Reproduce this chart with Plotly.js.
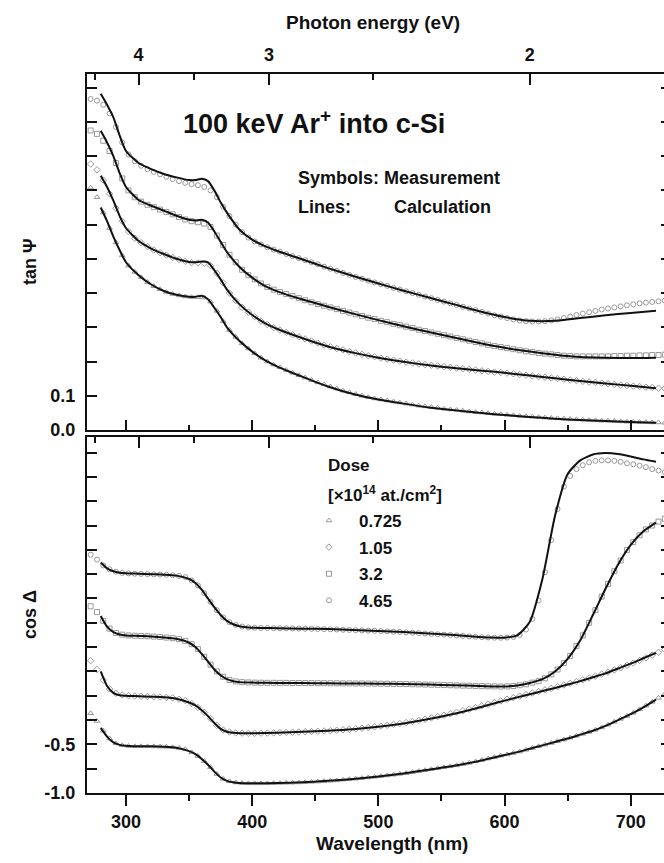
<!DOCTYPE html>
<html><head><meta charset="utf-8">
<script src="https://cdn.plot.ly/plotly-3.0.1.min.js"></script>
<style>html,body{margin:0;padding:0;background:#fff;overflow:hidden}</style>
</head><body><div id="chart" style="width:671px;height:863px"></div>
<script>
const DOSES = ['0.725', '1.05', '3.2', '4.65'];
const SYMBOLS = ['triangle-up-open', 'diamond-open', 'square-open', 'circle-open'];

// ---------- calculation (lines) ----------
// top panel: tan Psi (curves offset for clarity)
const WL_T = [280,285,290,295,300,310,320,330,340,350,355,360,365,370,375,380,390,400,410,420,440,460,480,500,520,540,560,580,600,620,640,660,680,700,720];
const TAN_CALC_0725 = [0.65,0.61,0.565,0.525,0.49,0.452,0.425,0.406,0.395,0.389,0.389,0.392,0.382,0.357,0.33,0.30,0.26,0.229,0.204,0.185,0.155,0.127,0.105,0.089,0.077,0.066,0.058,0.050,0.044,0.038,0.033,0.029,0.026,0.023,0.021];
const TAN_CALC_105  = [0.743,0.71,0.67,0.625,0.59,0.552,0.53,0.514,0.50,0.491,0.49,0.492,0.49,0.467,0.44,0.41,0.367,0.336,0.312,0.295,0.268,0.244,0.226,0.211,0.199,0.189,0.181,0.174,0.167,0.159,0.151,0.143,0.136,0.129,0.122];
const TAN_CALC_32   = [0.874,0.84,0.80,0.75,0.71,0.672,0.655,0.641,0.626,0.614,0.612,0.614,0.606,0.58,0.55,0.52,0.476,0.445,0.421,0.405,0.381,0.360,0.340,0.321,0.303,0.286,0.270,0.254,0.240,0.229,0.220,0.213,0.211,0.210,0.211];
const TAN_CALC_465  = [0.982,0.95,0.913,0.86,0.815,0.78,0.762,0.748,0.738,0.73,0.73,0.734,0.727,0.70,0.665,0.635,0.585,0.556,0.537,0.523,0.498,0.473,0.450,0.428,0.407,0.387,0.367,0.347,0.330,0.319,0.319,0.327,0.335,0.342,0.348];

// bottom panel: cos Delta (curves offset for clarity)
const WL_B = [280,285,290,295,300,310,320,330,340,350,355,360,365,370,375,380,385,390,400,420,440,460,480,500,520,540,560,580,590,600,610,620,630,640,650,660,670,680,690,700,710,720];
const COS_CALC_0725 = [-0.33,-0.42,-0.48,-0.505,-0.515,-0.52,-0.52,-0.525,-0.535,-0.57,-0.60,-0.65,-0.71,-0.78,-0.84,-0.875,-0.89,-0.897,-0.90,-0.897,-0.89,-0.875,-0.855,-0.83,-0.80,-0.76,-0.72,-0.67,-0.64,-0.61,-0.58,-0.545,-0.51,-0.475,-0.44,-0.40,-0.36,-0.31,-0.25,-0.19,-0.12,-0.04];
const COS_CALC_105  = [0.25,0.10,0.03,0.005,0.0,-0.005,-0.01,-0.015,-0.03,-0.07,-0.10,-0.15,-0.21,-0.28,-0.34,-0.37,-0.38,-0.385,-0.386,-0.38,-0.37,-0.36,-0.345,-0.32,-0.285,-0.24,-0.185,-0.12,-0.085,-0.05,-0.017,0.015,0.048,0.08,0.115,0.15,0.19,0.23,0.28,0.33,0.385,0.44];
const COS_CALC_32   = [0.82,0.71,0.655,0.63,0.62,0.615,0.61,0.60,0.585,0.545,0.50,0.43,0.35,0.27,0.21,0.17,0.15,0.14,0.135,0.132,0.13,0.128,0.126,0.124,0.12,0.115,0.108,0.10,0.096,0.095,0.105,0.13,0.17,0.25,0.38,0.57,0.83,1.10,1.35,1.55,1.69,1.78];
const COS_CALC_465  = [1.37,1.31,1.28,1.265,1.26,1.255,1.25,1.245,1.235,1.20,1.16,1.09,1.00,0.91,0.83,0.77,0.735,0.715,0.70,0.695,0.69,0.685,0.675,0.665,0.655,0.64,0.625,0.605,0.598,0.597,0.62,0.76,1.20,1.85,2.28,2.42,2.48,2.495,2.485,2.46,2.43,2.405];

// ---------- measurement (symbols) ----------
const WL_M = [272,277,282,287,292,297,302,307,312,317,
  322,327,332,337,342,347,352,357,362,367,
  372,377,382,387,392,397,402,407,412,417,
  422,427,432,437,442,447,452,457,462,467,
  472,477,482,487,492,497,502,507,512,517,
  522,527,532,537,542,547,552,557,562,567,
  572,577,582,587,592,597,602,607,612,617,
  622,627,632,637,642,647,652,657,662,667,
  672,677,682,687,692,697,702,707,712,717,
  722,727];

const TAN_MEAS_0725 = [0.708,0.680,0.635,0.590,0.548,0.510,0.480,0.462,0.446,0.432,
  0.420,0.411,0.403,0.397,0.393,0.390,0.388,0.388,0.387,0.375,
  0.348,0.318,0.292,0.272,0.253,0.238,0.224,0.211,0.200,0.191,
  0.183,0.175,0.167,0.160,0.153,0.146,0.139,0.133,0.127,0.121,
  0.115,0.110,0.105,0.100,0.096,0.092,0.089,0.086,0.083,0.080,
  0.077,0.074,0.071,0.069,0.067,0.065,0.062,0.060,0.058,0.056,
  0.054,0.052,0.051,0.049,0.047,0.046,0.044,0.043,0.041,0.040,
  0.039,0.037,0.036,0.035,0.034,0.033,0.032,0.031,0.030,0.029,
  0.028,0.027,0.027,0.026,0.025,0.024,0.024,0.023,0.023,0.022,
  0.022,0.021];
const TAN_MEAS_105 = [0.777,0.760,0.730,0.690,0.648,0.610,0.580,0.560,0.547,0.536,
  0.526,0.518,0.511,0.504,0.498,0.493,0.489,0.488,0.487,0.480,
  0.458,0.430,0.400,0.378,0.358,0.344,0.331,0.318,0.308,0.299,
  0.292,0.285,0.278,0.272,0.266,0.260,0.254,0.248,0.243,0.238,
  0.234,0.229,0.225,0.221,0.217,0.214,0.210,0.207,0.204,0.201,
  0.198,0.196,0.193,0.191,0.189,0.187,0.185,0.183,0.181,0.179,
  0.177,0.175,0.173,0.171,0.169,0.168,0.166,0.164,0.162,0.160,
  0.158,0.156,0.154,0.152,0.150,0.148,0.146,0.144,0.142,0.140,
  0.139,0.137,0.135,0.133,0.131,0.130,0.128,0.127,0.125,0.124,
  0.122,0.121];
const TAN_MEAS_32 = [0.875,0.865,0.845,0.815,0.780,0.735,0.700,0.680,0.667,0.658,
  0.651,0.644,0.637,0.630,0.622,0.615,0.610,0.607,0.603,0.593,
  0.568,0.540,0.512,0.490,0.468,0.452,0.440,0.428,0.418,0.410,
  0.403,0.397,0.391,0.385,0.379,0.373,0.368,0.363,0.358,0.353,
  0.348,0.343,0.338,0.333,0.328,0.324,0.319,0.315,0.310,0.306,
  0.302,0.298,0.293,0.289,0.285,0.281,0.277,0.273,0.269,0.265,
  0.261,0.257,0.253,0.249,0.245,0.242,0.239,0.236,0.233,0.230,
  0.228,0.225,0.223,0.221,0.219,0.217,0.216,0.215,0.215,0.215,
  0.215,0.215,0.215,0.216,0.216,0.217,0.217,0.218,0.218,0.219,
  0.219,0.220];
const TAN_MEAS_465 = [0.967,0.962,0.950,0.925,0.885,0.840,0.805,0.785,0.772,0.762,
  0.754,0.747,0.740,0.733,0.727,0.722,0.718,0.715,0.710,0.700,
  0.680,0.652,0.625,0.600,0.578,0.562,0.551,0.542,0.534,0.527,
  0.521,0.514,0.508,0.502,0.496,0.490,0.484,0.477,0.471,0.465,
  0.459,0.453,0.447,0.442,0.436,0.431,0.426,0.421,0.415,0.410,
  0.405,0.400,0.395,0.390,0.385,0.380,0.375,0.370,0.365,0.360,
  0.355,0.350,0.345,0.340,0.335,0.331,0.327,0.323,0.320,0.318,
  0.317,0.317,0.318,0.320,0.323,0.327,0.331,0.336,0.340,0.344,
  0.348,0.352,0.355,0.358,0.361,0.364,0.367,0.370,0.372,0.374,
  0.376,0.378];

const COS_MEAS_0725 = [-0.18,-0.26,-0.36,-0.44,-0.49,-0.51,-0.517,-0.52,-0.52,-0.52,
  -0.521,-0.523,-0.526,-0.530,-0.537,-0.55,-0.582,-0.62,-0.672,-0.735,
  -0.805,-0.855,-0.88,-0.892,-0.898,-0.90,-0.901,-0.901,-0.90,-0.899,
  -0.897,-0.895,-0.894,-0.892,-0.889,-0.886,-0.883,-0.879,-0.875,-0.871,
  -0.863,-0.858,-0.853,-0.847,-0.84,-0.834,-0.827,-0.82,-0.812,-0.804,
  -0.796,-0.786,-0.776,-0.766,-0.756,-0.746,-0.736,-0.726,-0.716,-0.703,
  -0.69,-0.676,-0.661,-0.646,-0.631,-0.616,-0.604,-0.589,-0.574,-0.556,
  -0.538,-0.52,-0.503,-0.486,-0.468,-0.451,-0.432,-0.412,-0.392,-0.372,
  -0.35,-0.326,-0.298,-0.268,-0.238,-0.208,-0.176,-0.14,-0.102,-0.063,
  -0.022,0.02];
const COS_MEAS_105 = [0.36,0.27,0.16,0.07,0.025,0.008,0.0,-0.003,-0.006,-0.008,
  -0.011,-0.013,-0.017,-0.022,-0.036,-0.05,-0.08,-0.12,-0.17,-0.235,
  -0.305,-0.352,-0.373,-0.382,-0.385,-0.386,-0.386,-0.385,-0.384,-0.382,
  -0.379,-0.377,-0.375,-0.373,-0.370,-0.368,-0.365,-0.362,-0.359,-0.355,
  -0.351,-0.346,-0.34,-0.334,-0.327,-0.32,-0.312,-0.304,-0.295,-0.286,
  -0.276,-0.265,-0.253,-0.241,-0.228,-0.214,-0.20,-0.185,-0.17,-0.154,
  -0.138,-0.121,-0.104,-0.087,-0.07,-0.053,-0.036,-0.02,-0.004,0.012,
  0.028,0.044,0.06,0.076,0.093,0.11,0.128,0.146,0.164,0.183,
  0.202,0.222,0.243,0.265,0.288,0.312,0.337,0.363,0.39,0.418,
  0.446,0.475];
const COS_MEAS_32 = [0.92,0.86,0.77,0.69,0.645,0.628,0.62,0.617,0.614,0.612,
  0.608,0.604,0.598,0.592,0.582,0.565,0.53,0.48,0.40,0.32,
  0.25,0.195,0.162,0.147,0.14,0.137,0.135,0.134,0.133,0.133,
  0.132,0.132,0.131,0.131,0.130,0.130,0.129,0.129,0.128,0.128,
  0.127,0.127,0.126,0.126,0.125,0.125,0.124,0.123,0.122,0.121,
  0.12,0.118,0.117,0.115,0.114,0.112,0.110,0.108,0.106,0.104,
  0.103,0.101,0.099,0.097,0.096,0.095,0.096,0.10,0.108,0.118,
  0.135,0.15,0.18,0.22,0.27,0.335,0.41,0.51,0.62,0.75,
  0.88,1.02,1.15,1.28,1.39,1.50,1.58,1.65,1.71,1.75,
  1.79,1.82];
const COS_MEAS_465 = [1.45,1.40,1.34,1.30,1.275,1.263,1.258,1.255,1.253,1.25,
  1.248,1.246,1.243,1.239,1.232,1.22,1.185,1.135,1.055,0.965,
  0.88,0.805,0.755,0.728,0.712,0.703,0.699,0.697,0.696,0.695,
  0.694,0.693,0.692,0.691,0.689,0.688,0.686,0.685,0.683,0.681,
  0.678,0.676,0.674,0.672,0.670,0.668,0.665,0.662,0.659,0.656,
  0.652,0.648,0.644,0.640,0.636,0.632,0.628,0.624,0.620,0.615,
  0.610,0.606,0.602,0.599,0.597,0.596,0.598,0.605,0.625,0.68,
  0.79,0.98,1.27,1.60,1.92,2.15,2.26,2.33,2.37,2.40,
  2.415,2.42,2.42,2.415,2.405,2.39,2.38,2.365,2.35,2.33,
  2.315,2.30];

const TAN_TICKS = [0,0.1,0.2,0.3,0.4,0.5,0.6,0.7,0.8,0.9,1.0];
const TAN_TICKTEXT = ['0.0','0.1','','','','','','','','',''];
const COS_TICKS = [-1,-0.75,-0.5,-0.25,0,0.25,0.5,0.75,1,1.25,1.5,1.75,2,2.25,2.5];
const COS_TICKTEXT = ['-1.0','','-0.5','','','','','','','','','','','',''];
const ENERGY_MAJOR = [4, 3, 2];
const ENERGY_MINOR = [4.5, 3.5, 2.5];
const HC = 1239.84; // eV*nm

const TAN_CALC = [TAN_CALC_0725, TAN_CALC_105, TAN_CALC_32, TAN_CALC_465];
const COS_CALC = [COS_CALC_0725, COS_CALC_105, COS_CALC_32, COS_CALC_465];
const TAN_MEAS = [TAN_MEAS_0725, TAN_MEAS_105, TAN_MEAS_32, TAN_MEAS_465];
const COS_MEAS = [COS_MEAS_0725, COS_MEAS_105, COS_MEAS_32, COS_MEAS_465];

const FONT = 'Liberation Sans, Arial, sans-serif';
const MARK_COLOR = '#999999';
const XR = [269.1, 731.9];
const markerStyle = (i) => ({symbol: SYMBOLS[i], size: 5, color: MARK_COLOR, line: {width: 1, color: MARK_COLOR}});
const lineStyle = {color: '#111', width: 2, shape: 'spline', smoothing: 0.6};

const traces = [];
for (let i = 0; i < 4; i++) {
  traces.push({x: WL_M, y: TAN_MEAS[i], xaxis: 'x2', yaxis: 'y2', mode: 'markers', showlegend: false, marker: markerStyle(i)});
}
for (let i = 0; i < 4; i++) {
  traces.push({x: WL_T, y: TAN_CALC[i], xaxis: 'x2', yaxis: 'y2', mode: 'lines', showlegend: false, line: lineStyle});
}
for (let i = 0; i < 4; i++) {
  traces.push({x: WL_M, y: COS_MEAS[i], xaxis: 'x', yaxis: 'y', mode: 'markers', name: DOSES[i], showlegend: true,
    legendgroup: 'g' + i, marker: markerStyle(i)});
}
for (let i = 0; i < 4; i++) {
  traces.push({x: WL_B, y: COS_CALC[i], xaxis: 'x', yaxis: 'y', mode: 'lines', showlegend: false, line: lineStyle});
}
// empty traces so that the photon-energy axes get drawn
traces.push({x: [], y: [], xaxis: 'x3', yaxis: 'y2', mode: 'markers', showlegend: false, hoverinfo: 'skip'});
traces.push({x: [], y: [], xaxis: 'x4', yaxis: 'y', mode: 'markers', showlegend: false, hoverinfo: 'skip'});

const tickfont = {family: FONT, size: 18, color: '#111', weight: 'bold'};
const base = {showgrid: false, zeroline: false, showline: true, linewidth: 2, linecolor: '#111',
  tickwidth: 2, tickcolor: '#111', tickfont: tickfont, fixedrange: true};
const energyTicks = {tickmode: 'array', tickvals: ENERGY_MAJOR.map(e => HC / e), ticktext: ENERGY_MAJOR.map(String),
  minor: {tickmode: 'array', tickvals: ENERGY_MINOR.map(e => HC / e), ticks: 'inside', ticklen: 6, tickwidth: 2, tickcolor: '#111'}};

const P = (px) => (px - 87) / 584;   // paper x
const Q = (py) => (793 - py) / 719;  // paper y
const txt = (text, px, py, size, extra) => Object.assign({text: text, xref: 'paper', yref: 'paper', x: P(px), y: Q(py),
  xanchor: 'center', yanchor: 'middle', showarrow: false, font: {family: FONT, size: size, color: '#111', weight: 'bold'}}, extra || {});

const layout = {
  width: 671, height: 863,
  margin: {l: 87, r: 0, t: 74, b: 70},
  paper_bgcolor: '#fff', plot_bgcolor: '#fff',
  showlegend: true,
  legend: {x: P(299), y: Q(503), xanchor: 'left', yanchor: 'top', bgcolor: 'rgba(0,0,0,0)',
    font: {family: FONT, size: 17, color: '#111', weight: 'bold'},
    itemwidth: 50, tracegroupgap: 1.5},
  xaxis: Object.assign({}, base, {anchor: 'y', domain: [0, 1], range: XR, ticks: 'outside', ticklen: 11,
    tick0: 0, dtick: 100, minor: {dtick: 50, ticks: 'outside', ticklen: 6, tickwidth: 2, tickcolor: '#111'}}),
  xaxis2: Object.assign({}, base, {anchor: 'y2', domain: [0, 1], range: XR, ticks: 'inside', ticklen: 10,
    tick0: 0, dtick: 100, showticklabels: false, minor: {dtick: 50, ticks: 'inside', ticklen: 5, tickwidth: 2, tickcolor: '#111'}}),
  xaxis3: Object.assign({}, base, energyTicks, {overlaying: 'x2', anchor: 'y2', side: 'top', range: XR, ticks: 'inside', ticklen: 11, ticklabelstandoff: 4}),
  xaxis4: Object.assign({}, base, energyTicks, {overlaying: 'x', anchor: 'y', side: 'top', range: XR, ticks: 'inside', ticklen: 11, showticklabels: false}),
  yaxis: Object.assign({}, base, {anchor: 'x', domain: [0, 0.4951], range: [-1, 2.66], ticks: 'inside', ticklen: 10,
    tickmode: 'array', tickvals: COS_TICKS, ticktext: COS_TICKTEXT, mirror: 'ticks', ticklabelstandoff: 6}),
  yaxis2: Object.assign({}, base, {anchor: 'x2', domain: [0.5049, 1], range: [0, 1.04], ticks: 'inside', ticklen: 10,
    tickmode: 'array', tickvals: TAN_TICKS, ticktext: TAN_TICKTEXT, mirror: 'ticks', ticklabelstandoff: 6}),
  annotations: [
    txt('Photon energy (eV)', 373, 22, 19),
    txt('Wavelength (nm)', 392, 843, 19),
    txt('tan Ψ', 30, 262, 18, {textangle: -90}),
    txt('cos Δ', 30, 615, 18, {textangle: -90}),
    txt('100 keV Ar<sup>+</sup> into c-Si', 181, 122, 27, {xanchor: 'left'}),
    txt('Symbols: Measurement', 296, 178, 18, {xanchor: 'left'}),
    txt('Lines:', 296, 207, 18, {xanchor: 'left'}),
    txt('Calculation', 392, 207, 18, {xanchor: 'left'}),
    txt('Dose', 326, 465, 17, {xanchor: 'left'}),
    txt('[×10<sup>14</sup> at./cm<sup>2</sup>]', 326, 494, 17, {xanchor: 'left'})
  ]
};

Plotly.newPlot('chart', traces, layout, {displayModeBar: false, staticPlot: true});
</script></body></html>
